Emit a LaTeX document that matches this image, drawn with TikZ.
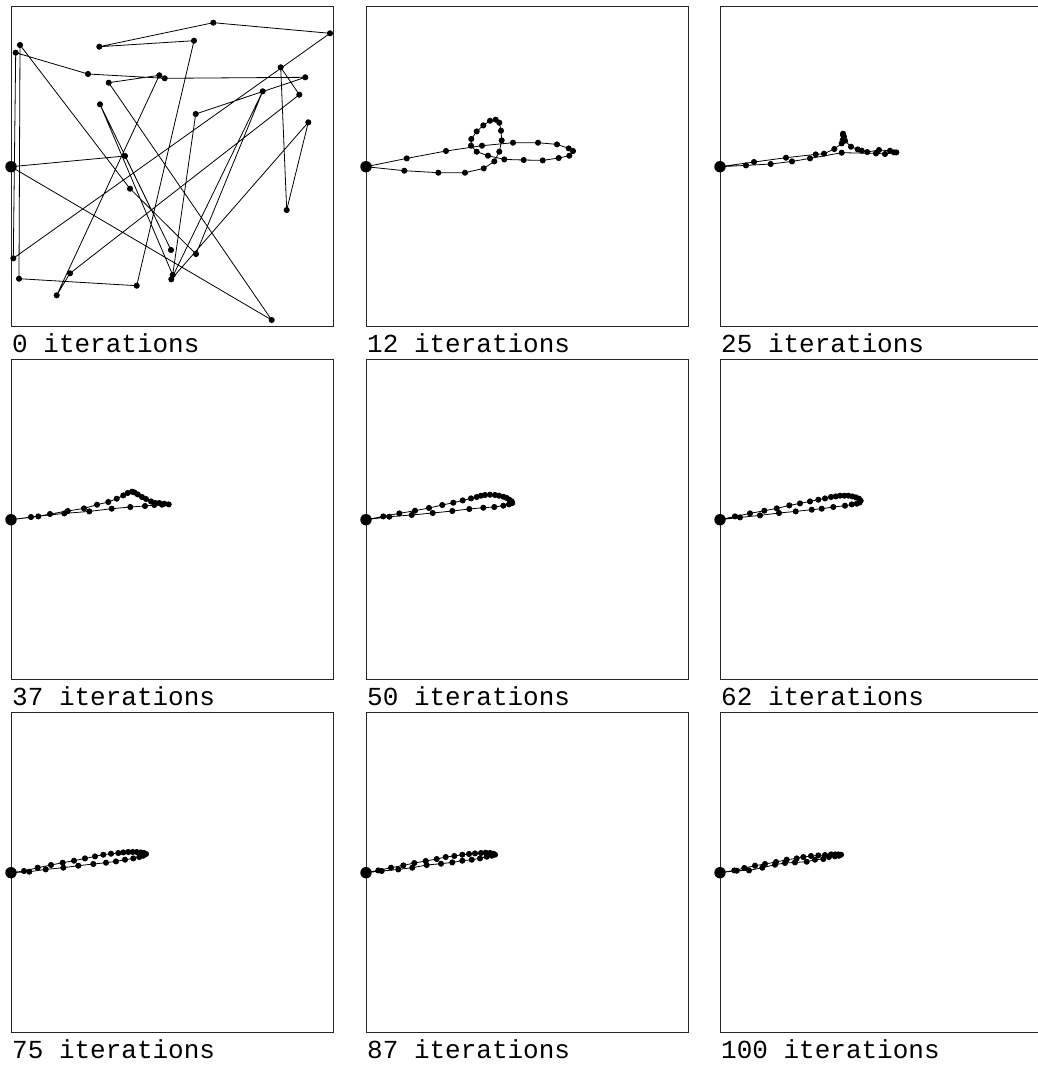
\documentclass[tikz,border=0pt]{standalone}
\usepackage{fontspec}
\newfontfamily\captfont{Liberation Mono}
\tikzset{
  trail/.style={line width=0.8pt, black},
  panelframe/.style={line width=0.9pt, draw=black!85},
  caption/.style={anchor=base west, inner sep=0pt, font={\captfont\fontsize{26}{30}\selectfont}}
}
\newcommand\iterpanel[4]{%
  \begin{scope}[shift={(#1,#2)}]
    \draw[panelframe] (0,-160.7) rectangle (322,159.3);
    \draw[trail] plot[mark=*, mark size=2.6pt] coordinates {#4};
    \fill (0,0) circle (5.7pt);
    \node[caption] at (1,185.3) {#3};
  \end{scope}}
\begin{document}
\begin{tikzpicture}[x=1pt,y=-1pt]
\useasboundingbox (0,0) rectangle (1038,1066);
\fill[white] (0,0) rectangle (1038,1066);
\clip (0,0) rectangle (1038,1066);
% 0 iterations
\iterpanel{11}{166.7}{0 iterations}{(0,0) (114,-10.7) (160,83.3) (89,-62.4) (161.7,108.3) (184.7,-52.7) (294.3,-89.4) (153.7,-88.4) (77,-92.7) (4.7,-114) (2.3,91.6) (319,-133.4) (202.3,-144) (88.3,-120) (183,-126) (125.7,119) (8,112) (9,-121.7) (119,22) (185,87.3) (251.7,-75.4) (160.3,112.6) (297.3,-44.4) (275.7,43.3) (269.7,-99.4) (288.3,-72) (59,106.6) (45.7,128.6) (148.3,-91.4) (97.7,-84) (260.7,153.3) (0,0)}
% 12 iterations
\iterpanel{366}{166.7}{12 iterations}{(0,0) (40.7,-8.3) (80,-15.7) (116,-21) (147,-24) (172,-24) (191,-22.3) (202.7,-18.3) (207,-15.7) (203.3,-11) (192.7,-8.7) (176.7,-6.3) (157.7,-6.7) (138.3,-7.3) (122,-11) (110.7,-15) (105,-21) (105.3,-27.7) (110.7,-35.3) (117.3,-41.3) (124,-46) (129.7,-47) (133.3,-44) (135,-36) (135.7,-26.3) (133.3,-15) (128.3,-5.3) (117.7,1.7) (99,6) (72.3,6) (38.3,4) (0,0)}
% 25 iterations
\iterpanel{720}{166.7}{25 iterations}{(0,0) (34,-4.7) (66,-9) (95.7,-12.3) (104,-13) (114.3,-17.7) (121.7,-23.3) (122.7,-26.7) (123,-31.7) (123,-33) (124,-30) (125,-26) (131,-20) (137.7,-17.3) (141.7,-16) (147.3,-14.7) (159,-16.7) (170,-16) (174,-14.3) (176.3,-14.3) (165,-12.7) (156,-13.3) (121.7,-14) (90,-8.3) (72,-5.3) (50.7,-2.7) (26,-1.3) (0,0)}
% 37 iterations
\iterpanel{11}{519.7}{37 iterations}{(0,0) (27.3,-3.3) (39,-5.7) (56.7,-8.7) (73,-11.3) (86,-15) (97.3,-17.7) (105.7,-21) (112.3,-24.3) (116.7,-26.7) (121,-28) (123.3,-27.3) (126.7,-25.3) (131,-22.7) (135,-20.7) (140,-18.3) (144.3,-16.7) (148.3,-16.7) (153.3,-16) (157.7,-15.3) (151,-15) (143.3,-14.7) (134,-13.7) (119.3,-12.7) (100.7,-11) (78.3,-8.3) (53.3,-6.3) (20,-2.7) (0,0)}
% 50 iterations
\iterpanel{366}{519.7}{50 iterations}{(0,0) (17.3,-3.3) (33.3,-6.3) (49,-9) (63,-11.7) (76.3,-14.7) (87.3,-17) (96.7,-19.3) (105,-21.3) (110.7,-22.7) (115,-24) (119,-24.7) (124,-25) (129,-24.7) (133,-24) (137.3,-23) (140.7,-21.7) (143.3,-20) (145.7,-18.3) (146.3,-16.7) (143,-15.3) (137.3,-14) (128.3,-12.7) (117.3,-12) (103.3,-10.7) (86.3,-8.7) (66.7,-6.7) (45.7,-4.7) (23.3,-3) (0,0)}
% 62 iterations
\iterpanel{720}{519.7}{62 iterations}{(0,0) (15,-3.3) (30,-6.3) (44.3,-9) (56.7,-11.3) (69.3,-14.3) (80,-16.3) (90,-18.3) (98.3,-20) (105,-21.3) (111,-22.7) (115.7,-23.3) (120,-24) (124.3,-24) (128.3,-24) (132.3,-23.3) (136,-22.3) (139,-21) (140.7,-19) (139.7,-17.3) (136.7,-16) (131.7,-15.3) (125,-14) (113.3,-12.7) (101.7,-11) (91.7,-10) (75.7,-8.3) (59,-6.7) (40,-4.3) (20,-2.3) (0,0)}
% 75 iterations
\iterpanel{11}{872.7}{75 iterations}{(0,0) (13,-1.7) (26.7,-5) (40,-7.7) (51.7,-10) (63,-12) (74,-14.3) (84,-16.3) (92.3,-18) (100,-19) (107.3,-19.7) (112.3,-20.3) (117.3,-20.7) (121.7,-20.7) (125.7,-20.7) (129.7,-20.3) (133,-19.7) (135,-18.7) (132.3,-17) (128.3,-15.7) (122.3,-14.3) (114,-13) (105,-11.3) (95,-10) (82.3,-8.7) (67.3,-7) (52.3,-5) (34.7,-3.3) (18.3,-1) (0,0)}
% 87 iterations
\iterpanel{366}{872.7}{87 iterations}{(0,0) (12.3,-2.3) (25,-5) (37.3,-7.3) (48.3,-9.7) (59.7,-11.7) (70.7,-13.7) (79.7,-15.7) (88.3,-16.7) (96.3,-18) (103,-18.7) (109,-19.3) (115,-19.7) (119.7,-20) (124,-19.7) (127.3,-19) (129,-18) (125.7,-17) (120.7,-16) (114,-14.3) (105.7,-13) (96.3,-12) (86.3,-10.3) (75,-9) (60.7,-7.7) (46.3,-5) (32.3,-3.3) (15.7,-1.7) (0,0)}
% 100 iterations
\iterpanel{720}{872.7}{100 iterations}{(0,0) (14.3,-2.3) (24.3,-4.7) (35,-7) (45,-8.7) (56,-10.7) (66.7,-13) (76.7,-14.3) (83.3,-15.7) (91,-16.7) (98.3,-17.3) (105,-17.7) (111,-18.3) (115,-18.3) (118.3,-18.3) (121,-18) (119,-17) (115,-16.3) (109,-15.7) (103.3,-13.7) (95,-13) (86.7,-11) (75,-10.3) (65,-9.7) (55,-8) (42.3,-5) (29,-2.3) (16.7,-2) (0,0)}
\end{tikzpicture}
\end{document}
